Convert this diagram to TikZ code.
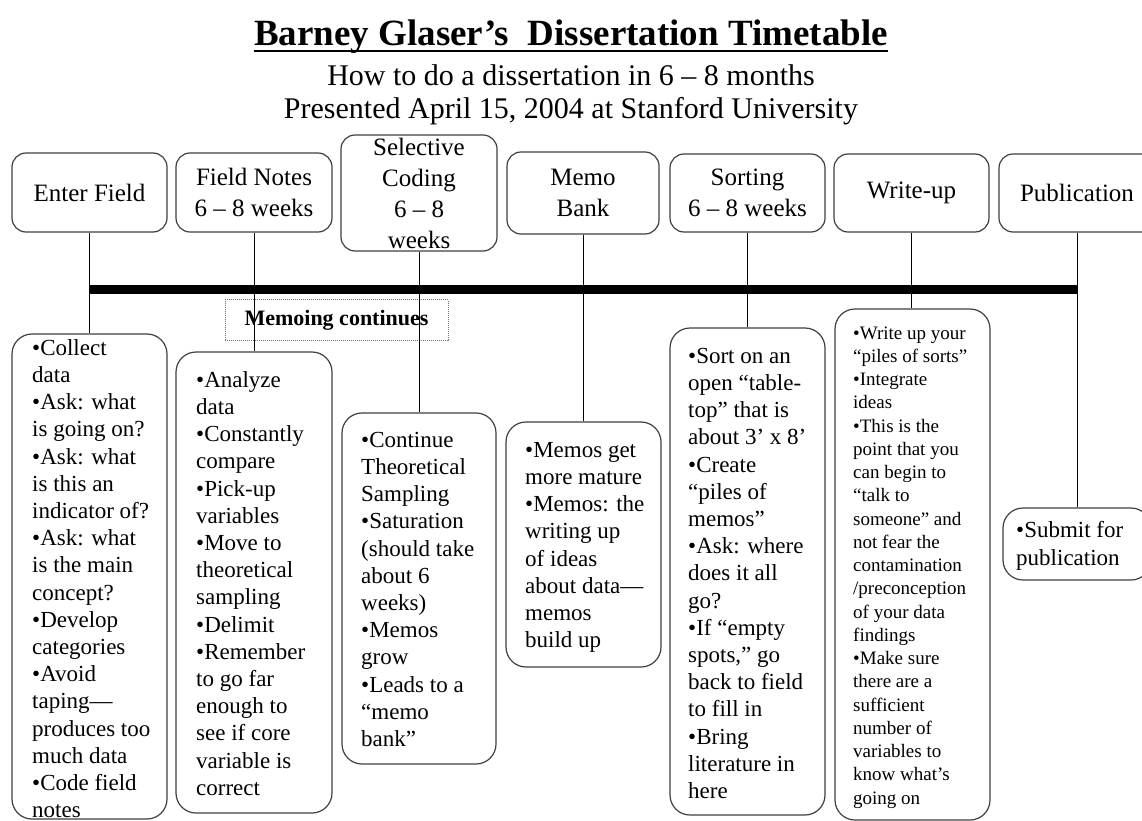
\documentclass[tikz,border=0pt]{standalone}
\usepackage{fontspec}
\setmainfont{Liberation Serif}
\usetikzlibrary{calc}
\definecolor{boxc}{HTML}{404040}
\definecolor{memoc}{HTML}{707070}
\tikzset{
  topbox/.style={draw=boxc, line width=1.2pt, rounded corners=14pt, inner sep=0pt, fill=white},
  botbox/.style={draw=boxc, line width=1.2pt, rounded corners=20pt, inner sep=0pt, fill=white},
  toptext/.style={align=center, inner sep=0pt, font=\fontsize{25}{31}\selectfont},
  bottext/.style={align=left, inner sep=0pt, anchor=north west, font=\fontsize{23}{27.2}\selectfont},
  smalltext/.style={align=left, inner sep=0pt, anchor=north west, font=\fontsize{19}{23.25}\selectfont},
  pubtext/.style={align=left, inner sep=0pt, anchor=north west, font=\fontsize{23}{28}\selectfont},
  link/.style={draw=black, line width=1pt},
  bar/.style={draw=black, line width=9pt},
  memobox/.style={draw=memoc, densely dotted, line width=1pt, minimum width=223pt, minimum height=41pt, inner sep=0pt, font=\bfseries\fontsize{22}{26}\selectfont},
  titletext/.style={inner sep=0pt, anchor=base, font=\bfseries\fontsize{37}{43}\selectfont},
  subtext/.style={inner sep=0pt, anchor=base, font=\fontsize{30}{36}\selectfont}
}
\begin{document}
\begin{tikzpicture}[x=1pt, y=-1pt]
\useasboundingbox[fill=white] (0,0) rectangle (1142,821);
\clip (0,0) rectangle (1142,821);

% title
\node[titletext] (title) at (571,46) {Barney Glaser’s\ \ Dissertation Timetable};
\draw[line width=2.5pt] ([yshift=-5pt]title.base west) -- ([yshift=-5pt]title.base east);
\node[subtext] (sub1) at (571,86) {How to do a dissertation in 6 – 8 months};
\node[subtext] (sub2) at (571,119) {Presented April 15, 2004 at Stanford University};

% top boxes
\node[topbox, minimum width=155pt, minimum height=79pt] (t1) at (89.5,192.5) {};
\node[topbox, minimum width=156pt, minimum height=79pt] (t2) at (254,192.5) {};
\node[topbox, minimum width=156pt, minimum height=116pt] (t3) at (419,193) {};
\node[topbox, minimum width=152pt, minimum height=82pt] (t4) at (583,193) {};
\node[topbox, minimum width=155pt, minimum height=78pt] (t5) at (747.5,193) {};
\node[topbox, minimum width=155pt, minimum height=78pt] (t6) at (911.5,193) {};
\node[topbox, minimum width=156pt, minimum height=78pt] (t7) at (1077,193) {};

\node[toptext] (l1) at (t1.center) {Enter Field};
\node[toptext] (l2) at (t2.center) {Field Notes\\6 – 8 weeks};
\node[toptext] (l3) at (t3.center) {Selective\\Coding\\6 – 8\\weeks};
\node[toptext] (l4) at (t4.center) {Memo\\Bank};
\node[toptext] (l5) at (t5.center) {Sorting\\6 – 8 weeks};
\node[toptext] (l6) at (t6.center) {Write-up};
\node[toptext] (l7) at (t7.center) {Publication};

% bottom boxes
\node[botbox, minimum width=155pt, minimum height=485pt] (b1) at (89.5,576.5) {};
\node[botbox, minimum width=156pt, minimum height=461pt] (b2) at (254,582.5) {};
\node[botbox, minimum width=154pt, minimum height=351pt] (b3) at (419,588.5) {};
\node[botbox, minimum width=155pt, minimum height=245pt] (b4) at (583.5,544.5) {};
\node[botbox, minimum width=155pt, minimum height=487pt] (b5) at (747.5,571.5) {};
\node[botbox, minimum width=155pt, minimum height=511pt] (b6) at (912.5,564.5) {};
\node[botbox, minimum width=148pt, minimum height=72pt] (b7) at (1077,544) {};

\node[bottext] (x1) at (32,336) {\strut•Collect\\data\\•Ask: what\\is going on?\\•Ask: what\\is this an\\indicator of?\\•Ask: what\\is the main\\concept?\\•Develop\\categories\\•Avoid\\taping—\\produces too\\much data\\•Code field\\notes};
\node[bottext] (x2) at (196,368) {\strut•Analyze\\data\\•Constantly\\compare\\•Pick-up\\variables\\•Move to\\theoretical\\sampling\\•Delimit\\•Remember\\to go far\\enough to\\see if core\\variable is\\correct};
\node[bottext] (x3) at (361,428) {\strut•Continue\\Theoretical\\Sampling\\•Saturation\\(should take\\about 6\\weeks)\\•Memos\\grow\\•Leads to a\\“memo\\bank”};
\node[bottext] (x4) at (525,438) {\strut•Memos get\\more mature\\•Memos: the\\writing up\\of ideas\\about data—\\memos\\build up};
\node[bottext] (x5) at (688,344) {\strut•Sort on an\\open “table-\\top” that is\\about 3’ x 8’\\•Create\\“piles of\\memos”\\•Ask: where\\does it all\\go?\\•If “empty\\spots,” go\\back to field\\to fill in\\•Bring\\literature in\\here};
\node[smalltext] (x6) at (853,322.7) {\strut•Write up your\\“piles of sorts”\\•Integrate\\ideas\\•This is the\\point that you\\can begin to\\“talk to\\someone” and\\not fear the\\contamination\\/preconception\\of your data\\findings\\•Make sure\\there are a\\sufficient\\number of\\variables to\\know what’s\\going on};
\node[pubtext] (x7) at (1016,517.4) {\strut•Submit for\\publication};

% memoing note
\node[memobox, fill=white] (memo) at (336.5,320) {Memoing continues};

% timeline bar
\coordinate (barL) at (t1.south |- 0,289.5);
\coordinate (barR) at (t7.south |- 0,289.5);
\draw[bar] (barL) -- (barR);

% connectors
\draw[link] (t1.south) -- (t1.south |- b1.north);
\draw[link] (t2.south) -- (t2.south |- b2.north);
\draw[link] (t3.south) -- (t3.south |- b3.north);
\draw[link] (t4.south) -- (t4.south |- b4.north);
\draw[link] (t5.south) -- (t5.south |- b5.north);
\draw[link] (t6.south) -- (t6.south |- b6.north);
\draw[link] (t7.south) -- (t7.south |- b7.north);
\end{tikzpicture}
\end{document}
